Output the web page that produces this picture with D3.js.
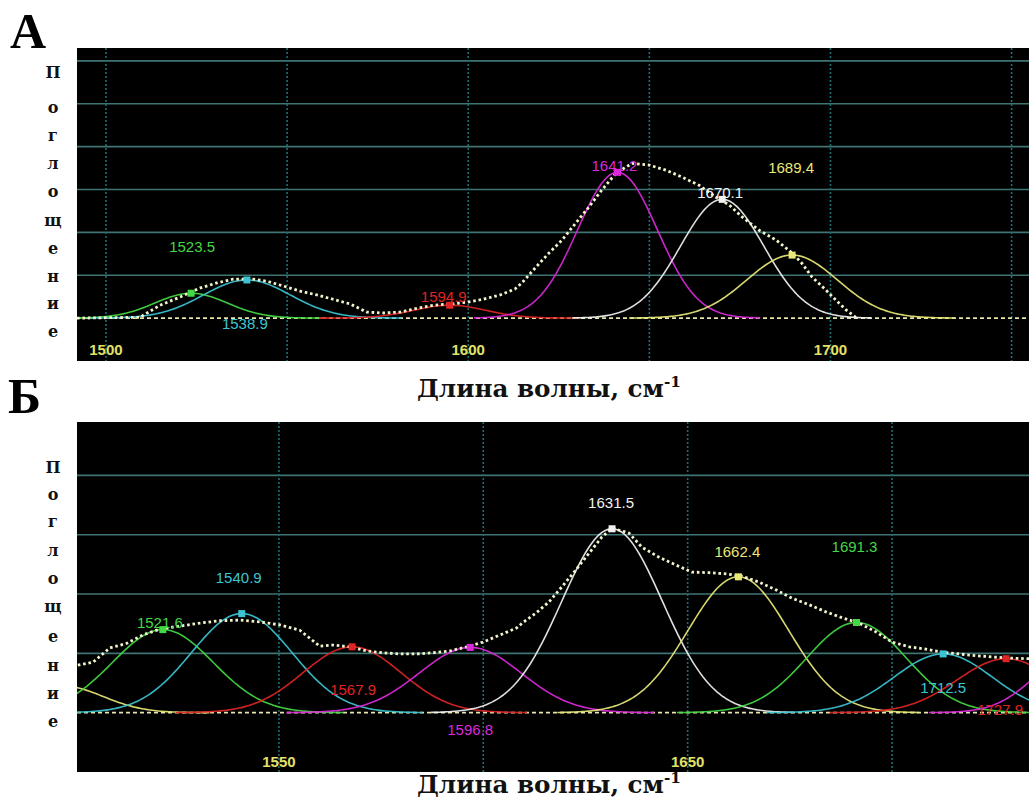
<!DOCTYPE html>
<html><head><meta charset="utf-8">
<script src="https://cdn.jsdelivr.net/npm/d3@7"></script>
<style>body{margin:0;background:#fff;} svg{display:block}</style>
</head><body><svg id="c" width="1029" height="809"></svg>
<script>
// ================= DATA: panel А =================
const aCenters = [1523.5, 1538.9, 1594.9, 1641.2, 1670.1, 1689.4];
const aHeights = [0.058, 0.089, 0.030, 0.340, 0.277, 0.147];
const aWidths  = [10, 12, 10, 11, 11.5, 12.5];
const aShow    = [true, true, true, true, true, true];
const aSpecX = [1492, 1509.4, 1514.9, 1520.4, 1525.9, 1530.6, 1535.1, 1540.6, 1544.4, 1548.9, 1553.6, 1558.2, 1562.7, 1567.4, 1572.0, 1576.5, 1581.2, 1585.9, 1590.3, 1595.0, 1599.7, 1604.1, 1608.8, 1612.9, 1614.8, 1618.7, 1622.3, 1625.9, 1629.7, 1633.3, 1636.9, 1640.8, 1645.2, 1649.9, 1654.6, 1659.0, 1663.7, 1668.4, 1672.0, 1675.6, 1680.3, 1685.0, 1689.4, 1692.1, 1694.9, 1698.8, 1701.5, 1704.3, 1707.0];
const aSpecY = [0, 0.002, 0.030, 0.049, 0.070, 0.082, 0.091, 0.091, 0.086, 0.075, 0.063, 0.054, 0.044, 0.033, 0.014, 0.012, 0.014, 0.023, 0.030, 0.033, 0.037, 0.044, 0.054, 0.068, 0.082, 0.119, 0.152, 0.182, 0.222, 0.259, 0.299, 0.338, 0.361, 0.357, 0.345, 0.329, 0.310, 0.282, 0.264, 0.236, 0.205, 0.182, 0.152, 0.128, 0.096, 0.065, 0.042, 0.019, 0.002];
const aXDomain = [1492, 1754.8];
const aYDomain = [-0.1, 0.63];
const aGridX = [1500, 1550, 1600, 1650, 1700, 1750];
const aGridY = [0.1, 0.2, 0.3, 0.4, 0.5, 0.6];
const aTickLabels = [1500, 1600, 1700];

// ================= DATA: panel Б =================
const bCenters = [1497, 1521.6, 1540.9, 1567.9, 1596.8, 1631.5, 1662.4, 1691.3, 1712.5, 1727.9, 1745];
const bHeights = [0.045, 0.140, 0.167, 0.111, 0.110, 0.310, 0.229, 0.152, 0.099, 0.091, 0.100];
const bWidths  = [10, 12.3, 12.3, 12, 12.5, 12.3, 12.3, 12.2, 12, 12, 10];
const bShow    = [false, true, true, true, true, true, true, true, true, true, false];
const bSpecX = [1500.8, 1504.5, 1508.6, 1512.8, 1516.7, 1520.9, 1525.8, 1530.7, 1535.6, 1540.5, 1545.4, 1550.2, 1555.1, 1560.0, 1563.2, 1567.4, 1571.5, 1575.4, 1579.6, 1583.8, 1587.7, 1591.8, 1596.0, 1599.9, 1604.1, 1608.2, 1609.5, 1612.9, 1616.1, 1619.2, 1622.7, 1625.9, 1629.0, 1631.5, 1635.6, 1638.8, 1643.0, 1647.1, 1651.0, 1655.2, 1659.4, 1663.3, 1667.5, 1671.6, 1675.5, 1679.7, 1683.8, 1687.8, 1691.9, 1696.1, 1700.0, 1704.2, 1708.3, 1712.2, 1716.4, 1720.6, 1724.5, 1728.6, 1733.5];
const bSpecY = [0.080, 0.085, 0.109, 0.117, 0.131, 0.141, 0.146, 0.151, 0.155, 0.156, 0.153, 0.148, 0.139, 0.112, 0.114, 0.111, 0.104, 0.101, 0.099, 0.099, 0.101, 0.104, 0.111, 0.119, 0.131, 0.143, 0.151, 0.168, 0.187, 0.212, 0.241, 0.269, 0.296, 0.311, 0.303, 0.279, 0.262, 0.249, 0.237, 0.236, 0.234, 0.230, 0.220, 0.207, 0.193, 0.182, 0.170, 0.160, 0.151, 0.136, 0.119, 0.111, 0.107, 0.102, 0.099, 0.096, 0.094, 0.092, 0.091];
const bXDomain = [1500.6, 1733.5];
const bYDomain = [-0.1, 0.49];
const bGridX = [1550, 1600, 1650, 1700];
const bGridY = [0.1, 0.2, 0.3, 0.4];
const bTickLabels = [1550, 1650];

// ================= STYLE / LAYOUT =================
const C = {
  green:'#44d844', cyan:'#3cc4d4', red:'#e02424', magenta:'#dc28dc', white:'#f2f2f2', yellow:'#e8e878'
};
const aColors = [C.green, C.cyan, C.red, C.magenta, C.white, C.yellow];
const bColors = [C.yellow, C.green, C.cyan, C.red, C.magenta, C.white, C.yellow, C.green, C.cyan, C.red, C.magenta];
// label offsets relative to peak marker (px)
const aLabelOff = [[1,-46],[-2,44],[-6,-8],[-3,-6],[-2,-6],[-1,-87]];
const bLabelOff = [[0,0],[-3,-7],[-3,-36],[1,43],[0,83],[-1,-26],[-1,-25],[-2,-76],[0,34],[-6,51],[0,0]];

const svg = d3.select('#c');
const serif = '"DejaVu Serif","Liberation Serif",serif';
const sans = '"Liberation Sans",Arial,sans-serif';

function panel(id, box, xDom, yDom, gridX, gridY, ticks, tickY, centers, heights, widths, show, colors, labelOff, specX, specY) {
  const x = d3.scaleLinear().domain(xDom).range([box.x0, box.x1]);
  const y = d3.scaleLinear().domain(yDom).range([box.y1, box.y0]);
  const g = svg.append('g');
  g.append('rect').attr('x', box.x0).attr('y', box.y0).attr('width', box.x1-box.x0).attr('height', box.y1-box.y0).attr('fill', '#000');
  g.append('clipPath').attr('id', 'clip'+id).append('rect')
    .attr('x', box.x0).attr('y', box.y0).attr('width', box.x1-box.x0).attr('height', box.y1-box.y0);
  const inner = g.append('g').attr('clip-path', `url(#clip${id})`);
  // grid
  inner.selectAll('.gy').data(gridY).join('line')
    .attr('x1', box.x0).attr('x2', box.x1).attr('y1', d=>y(d)).attr('y2', d=>y(d))
    .attr('stroke', '#3f7472').attr('stroke-width', 1.6);
  inner.selectAll('.gx').data(gridX).join('line')
    .attr('x1', d=>x(d)).attr('x2', d=>x(d)).attr('y1', box.y0).attr('y2', box.y1)
    .attr('stroke', '#1c6e74').attr('stroke-width', 1.6).attr('stroke-dasharray', '2,2');
  // tick labels
  inner.selectAll('.tl').data(ticks).join('text')
    .attr('x', d=>x(d)).attr('y', tickY).attr('text-anchor', 'middle')
    .attr('font-family', sans).attr('font-weight', 'bold').attr('font-size', 15)
    .attr('fill', '#e2e266').text(d=>d);
  // baseline
  inner.append('line').attr('x1', box.x0).attr('x2', box.x1).attr('y1', y(0)).attr('y2', y(0))
    .attr('stroke', '#e6e6a8').attr('stroke-width', 1.8).attr('stroke-dasharray', '4,3');
  // component bands
  const line = d3.line().x(d=>x(d[0])).y(d=>y(d[1]));
  centers.forEach((c, i) => {
    const s = widths[i], h = heights[i];
    const xs = d3.range(c - 3.6*s, c + 3.6*s + 0.01, 0.5);
    const pts = xs.map(v => [v, h*Math.exp(-((v-c)*(v-c))/(2*s*s))]);
    inner.append('path').attr('d', line(pts)).attr('fill', 'none')
      .attr('stroke', colors[i]).attr('stroke-width', 1.6).attr('opacity', 0.92);
  });
  // measured spectrum (dotted)
  inner.append('path').attr('d', line(specX.map((v,i)=>[v, specY[i]])))
    .attr('fill', 'none').attr('stroke', '#f4f4cc').attr('stroke-width', 2.8)
    .attr('stroke-dasharray', '2.6,2.8');
  // markers + labels
  centers.forEach((c, i) => {
    if (!show[i]) return;
    const px = x(c), py = y(heights[i]);
    inner.append('rect').attr('x', px-3.5).attr('y', py-3.5).attr('width', 7).attr('height', 7).attr('fill', colors[i]);
    inner.append('text').attr('x', px + labelOff[i][0]).attr('y', py + labelOff[i][1] + 5)
      .attr('text-anchor', 'middle').attr('font-family', sans).attr('font-size', 15)
      .attr('fill', colors[i]).text(d3.format('.1f')(c));
  });
}

panel('A', {x0:77, x1:1029, y0:48, y1:361}, aXDomain, aYDomain, aGridX, aGridY, aTickLabels, 355,
  aCenters, aHeights, aWidths, aShow, aColors, aLabelOff, aSpecX, aSpecY);
panel('B', {x0:77, x1:1029, y0:422, y1:772}, bXDomain, bYDomain, bGridX, bGridY, bTickLabels, 767,
  bCenters, bHeights, bWidths, bShow, bColors, bLabelOff, bSpecX, bSpecY);

// panel letters
const letterFont = '"Liberation Serif","Times New Roman",serif';
svg.append('text').attr('x', 10).attr('y', 48).attr('font-family', letterFont).attr('font-weight', 'bold')
  .attr('font-size', 50).attr('fill', '#000').text('А');
svg.append('text').attr('x', 8).attr('y', 413).attr('font-family', letterFont).attr('font-weight', 'bold')
  .attr('font-size', 50).attr('fill', '#000').text('Б');

// vertical y-axis titles (stacked letters)
const yTitle = 'Поглощение';
const aLetterY = [78, 113, 141, 169, 197, 226, 254, 282, 309, 337];
const bLetterY = [473, 500, 527, 556, 584, 612, 642, 671, 699, 727];
[aLetterY, bLetterY].forEach(ys => {
  svg.append('g').selectAll('text').data(yTitle.split('')).join('text')
    .attr('x', 53).attr('y', (d,i)=>ys[i]).attr('text-anchor', 'middle')
    .attr('font-family', serif).attr('font-weight', 'bold').attr('font-size', 16)
    .attr('fill', '#111').text(d=>d);
});

// x-axis titles
[397, 793].forEach(by => {
  const t = svg.append('text').attr('x', 417).attr('y', by).attr('text-anchor', 'start')
    .attr('font-family', serif).attr('font-weight', 'bold').attr('font-size', 24).attr('fill', '#111');
  const main = t.append('tspan').text('Длина волны, см');
  const w = main.node().getComputedTextLength();
  const fs = 24 * 247 / w;
  t.attr('font-size', fs);
  t.append('tspan').attr('dy', -fs*0.42).attr('font-size', fs*0.62).text('-1');
});
</script></body></html>
